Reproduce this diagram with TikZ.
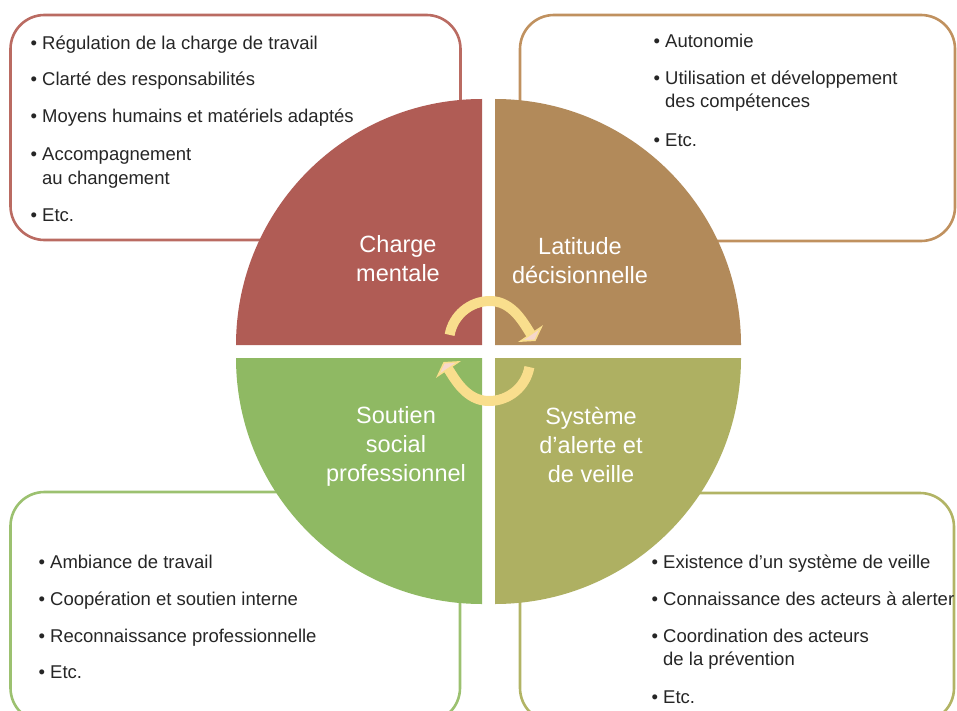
\documentclass[tikz,border=0pt]{standalone}
\usepackage{fontspec}
\setmainfont{Liberation Sans}
\usepackage{tikz}
\usetikzlibrary{arrows.meta}
\definecolor{ink}{HTML}{262626}
\definecolor{charge}{HTML}{B05C55}
\definecolor{latitude}{HTML}{B28A5A}
\definecolor{soutien}{HTML}{8FB963}
\definecolor{veille}{HTML}{AEB062}
\definecolor{chargeline}{HTML}{BA6B62}
\definecolor{latline}{HTML}{C0915F}
\definecolor{soutline}{HTML}{9CC170}
\definecolor{veilline}{HTML}{B2B465}
\definecolor{flow}{HTML}{F9DE8D}
\definecolor{flowtip}{HTML}{F6D8CB}
\newcommand{\puce}{\llap{•\hspace{5pt}}}
\tikzset{
  box/.style={line width=2.6pt, rounded corners=34pt, fill=white},
  item/.style={anchor=base west, inner sep=0pt, text=ink, font=\fontsize{18.5}{22}\selectfont},
  qlab/.style={anchor=north, align=center, inner sep=0pt, text=white, font=\fontsize{23.5}{29}\selectfont},
  turn/.style={draw=flow, line width=10pt,
    -{Triangle[length=9pt, width=30pt, fill=flowtip, line width=1.5pt]}},
}
\begin{document}
\begin{tikzpicture}[x=1pt,y=-1pt]
  \useasboundingbox (0,0) rectangle (957,711);
  \clip (0,0) rectangle (957,711);
  \coordinate (O) at (488.5,351.5);
  % boxes
  \draw[box,draw=chargeline] (10.5,15) rectangle (460.5,240);
  \draw[box,draw=latline] (520,15) rectangle (955,241);
  \draw[box,draw=soutline] (10.5,492) rectangle (460,722);
  \draw[box,draw=veilline] (520,493) rectangle (954,722);
  % quarters
  \foreach \col/\dx/\dy/\s/\e in {charge/-1/-1/180/270, latitude/1/-1/0/-90,
                                  soutien/-1/1/180/90, veille/1/1/0/90}
    \fill[\col] (488.5+\dx*6.5,351.5+\dy*6.5) -- ++(\dx*246,0)
      arc[start angle=\s, end angle=\e, radius=246] -- cycle;
  % arrows
  \coordinate (up) at (490,342);
  \coordinate (down) at (489,360);
  \coordinate (upend) at (535.5,341);
  \coordinate (downend) at (443.5,362);
  \draw[turn] (up) ++(190:41) arc[start angle=190, end angle=270, radius=41]
    .. controls (513,301) and (524.3,324.4) .. (upend);
  \draw[turn] (down) ++(10:41) arc[start angle=10, end angle=90, radius=41]
    .. controls (466,401) and (454.7,378.6) .. (downend);
  % labels
  \node[qlab] (charge-lab) at (398,235) {Charge\\mentale};
  \node[qlab] (lat-lab) at (580,237) {Latitude\\décisionnelle};
  \node[qlab] (sout-lab) at (396,406) {Soutien\\social\\professionnel};
  \node[qlab] (veil-lab) at (591,407) {Système\\d’alerte et\\de veille};
  % lists
  \foreach \y/\t [count=\i] in {50/\puce Régulation de la charge de travail,
      86/\puce Clarté des responsabilités, 123/\puce Moyens humains et matériels adaptés,
      161/\puce Accompagnement, 185/au changement, 222/\puce Etc.}
    \node[item] (tl\i) at (42,\y) {\t};
  \foreach \y/\t [count=\i] in {48/\puce Autonomie, 85/\puce Utilisation et développement,
      108/des compétences, 147/\puce Etc.}
    \node[item] (tr\i) at (665,\y) {\t};
  \foreach \y/\t [count=\i] in {568/\puce Ambiance de travail,
      605/\puce Coopération et soutien interne, 642/\puce Reconnaissance professionnelle,
      678/\puce Etc.}
    \node[item] (bl\i) at (50,\y) {\t};
  \foreach \y/\t [count=\i] in {568/\puce Existence d’un système de veille,
      605/\puce Connaissance des acteurs à alerter, 642/\puce Coordination des acteurs,
      665/de la prévention, 703/\puce Etc.}
    \node[item] (br\i) at (663,\y) {\t};
\end{tikzpicture}
\end{document}
